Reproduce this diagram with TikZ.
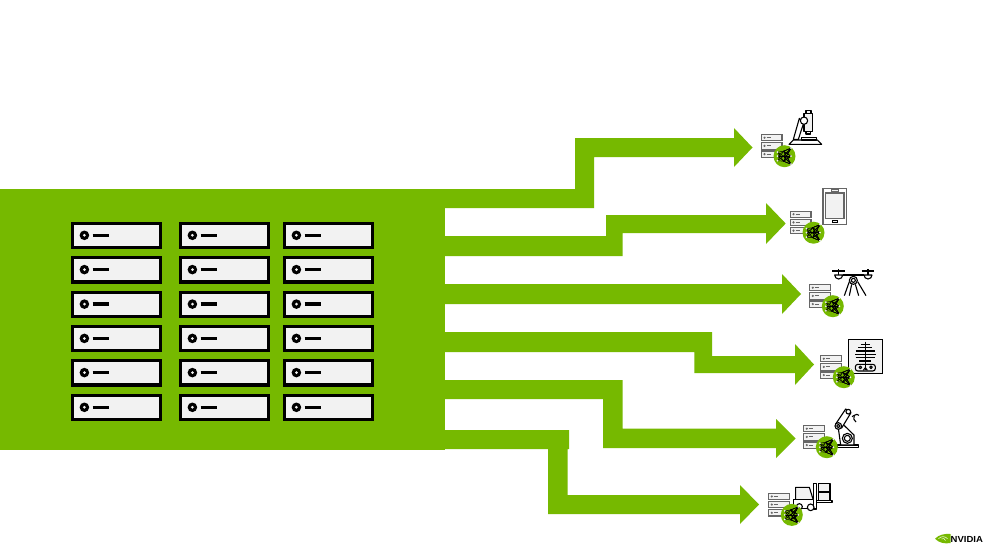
\documentclass[tikz,border=0pt]{standalone}
\usepackage{fontspec}
\newfontfamily\logofont{Liberation Sans}
\definecolor{edgegreen}{HTML}{76B900}
\definecolor{cardc}{HTML}{F2F2F2}
\definecolor{stackc}{HTML}{666666}

\tikzset{
  devline/.style={draw=black,line width=1.1pt,line join=round},
  pics/servercard/.style={code={
    \draw[black,line width=3.2pt,fill=cardc] (1.6,1.6) rectangle (89.4,26);
    \fill[black] (13.7,13.6) circle (4.8);
    \fill[cardc] (13.7,13.6) circle (1.5);
    \draw[black,line width=3.4pt] (22,13.6) -- (38,13.6);
  }},
  pics/edgenode/.style={code={
    % stacked servers
    \foreach \r in {0,1,2} {
      \draw[stackc,line width=1.1pt,fill=cardc] (0.6,{0.6+\r*8.2}) rectangle (21,{6.9+\r*8.2});
      \fill[stackc] (3.5,{3.7+\r*8.2}) circle (1.2);
      \draw[stackc,line width=0.9pt] (5.5,{3.7+\r*8.2}) -- (10,{3.7+\r*8.2});
    }
    % green disc with network
    \fill[edgegreen] (23.5,22.2) circle (11);
    \begin{scope}[shift={(23.5,22.2)}]
      \foreach \ya in {-4,0,4.5} {
        \foreach \yb in {-5,0,5} {
          \draw[black,line width=0.5pt] (-7,\ya) -- (-1,\yb);
          \foreach \yc in {-8,0,8} \draw[black,line width=0.5pt] (-1,\yb) -- (6.5,\yc);
        }
        \fill[cardc] (-7,\ya) circle (1);
      }
      \foreach \yc in {-8,0,8} \fill[cardc] (6.5,\yc) circle (1);
    \end{scope}
  }}
}

\begin{document}
\begin{tikzpicture}[x=1pt,y=-1pt]
  \useasboundingbox (0,0) rectangle (997,560);
  \fill[white] (0,0) rectangle (997,560);

  % ============================================================
  %                       DATA CENTRE BLOCK
  % ============================================================
  \fill[edgegreen] (0,189) rectangle (445,450);
  \foreach \xx in {70.7,178.7,282.7} {
    \foreach \yy in {221.7,256,290.5,324.8,359,393.7} {
      \pic at (\xx,\yy) {servercard};
    }
  }

  % ============================================================
  %                       ARROWS
  % ============================================================
  \fill[edgegreen] (445,189) -- (575,189) -- (575,138) -- (734,138) -- (734,128)
    -- (752.5,147.5) -- (734,167) -- (734,157) -- (594,157) -- (594,208) -- (445,208) -- cycle;
  \fill[edgegreen] (445,236) -- (606,236) -- (606,215) -- (766,215) -- (766,203)
    -- (785.7,223.5) -- (766,244) -- (766,233) -- (622.7,233) -- (622.7,256) -- (445,256) -- cycle;
  \fill[edgegreen] (445,284) -- (782,284) -- (782,274)
    -- (801,294) -- (782,314) -- (782,304) -- (445,304) -- cycle;
  \fill[edgegreen] (445,332) -- (712,332) -- (712,356) -- (795,356) -- (795,344)
    -- (814,364.5) -- (795,385) -- (795,373) -- (694.3,373) -- (694.3,352) -- (445,352) -- cycle;
  \fill[edgegreen] (445,380) -- (622.7,380) -- (622.7,428.7) -- (776,428.7) -- (776,419)
    -- (795.7,438.5) -- (776,458) -- (776,448) -- (603,448) -- (603,399) -- (445,399) -- cycle;
  \fill[edgegreen] (445,430) -- (569,430) -- (569,449) -- (567.7,449) -- (567.7,495) -- (740,495) -- (740,485)
    -- (759,504.5) -- (740,524) -- (740,514) -- (548,514) -- (548,449) -- (445,449) -- cycle;

  % ============================================================
  %                       DEVICES (zoomed coords, 1/3 scale)
  % ============================================================
  % microscope
  \begin{scope}[shift={(740,100)},scale=1/3]
    \draw[devline,fill=white] (147,133) -- (160,120) -- (232,120) -- (245,133) -- cycle;
    \draw[devline,fill=cardc] (185,112) rectangle (230,120);
    \draw[devline,fill=white] (160,118) -- (178,55) -- (190,72) -- (175,118) -- cycle;
    \draw[devline,fill=cardc] (192,40) rectangle (218,95);
    \draw[devline,fill=cardc] (198,32) rectangle (213,40);
    \draw[devline,fill=cardc] (198,95) rectangle (212,102);
    \draw[devline,fill=white] (192,62) circle (11);
  \end{scope}

  % phone
  \begin{scope}[shift={(740,100)},scale=1/3]
    \draw[stackc,line width=1.5pt,fill=white] (249,265) rectangle (320,374);
    \draw[stackc,line width=1.2pt,fill=cardc] (256,279) rectangle (312,356);
    \draw[stackc,line width=1pt,fill=cardc] (274,267) rectangle (294,274);
    \draw[black,line width=0.8pt,fill=cardc] (276,360) rectangle (291,368);
  \end{scope}

  % drone
  \begin{scope}[shift={(790,255)},scale=1/3]
    \foreach \pp in {146,234} {
      \draw[devline] (\pp-19,48) -- (\pp+19,48);
      \draw[devline] (\pp,43) -- (\pp,60);
      \draw[devline] (\pp-12,60) -- (\pp+12,60) arc (0:-180:12 and -12) -- cycle;
    }
    \draw[devline] (158,60) -- (222,60);
    \draw[devline,fill=white] (190,76) circle (12);
    \draw[devline] (190,76) circle (6);
    \draw[devline] (178,80) -- (163,122);
    \draw[devline] (185,88) -- (178,122);
    \draw[devline] (196,88) -- (206,122);
    \draw[devline] (203,80) -- (228,122);
  \end{scope}

  % x-ray
  \begin{scope}[shift={(790,255)},scale=1/3]
    \draw[black,line width=1.2pt,fill=cardc] (175,253) rectangle (278,355);
    \draw[devline] (226,260) -- (226,345);
    \foreach \yy/\ww in {268/14,278/21,288/29,298/31,308/29,318/18} {
      \draw[devline] (226-\ww,\yy) -- (226+\ww,\yy);
    }
    \draw[devline,rounded corners=2.5pt] (196,328) rectangle (256,348);
    \draw[devline] (211,337) circle (4);
    \draw[devline] (243,337) circle (4);
    \draw[devline] (226,338) -- (220,346);
    \draw[devline] (226,338) -- (232,346);
  \end{scope}

  % robot arm
  \begin{scope}[shift={(750,400)},scale=1/3]
    \draw[devline,fill=white] (262,135) rectangle (326,142);
    \draw[devline,fill=white] (272,135) -- (265,85) -- (278,72) -- (312,105) -- (312,135) -- cycle;
    \draw[devline,fill=white] (292,115) circle (15);
    \draw[devline,fill=white] (292,115) circle (9);
    \draw[devline,fill=white] (257,72) -- (287,27) -- (303,38) -- (275,84) -- cycle;
    \draw[devline,fill=white] (265,78) circle (10);
    \draw[devline] (265,78) circle (5);
    \draw[devline,fill=white] (295,35) circle (7);
    \draw[devline] (306,50) -- (313,46) .. controls (318,42) and (323,42) .. (327,46);
    \draw[devline] (313,46) .. controls (309,54) and (311,62) .. (318,66);
  \end{scope}

  % forklift
  \begin{scope}[shift={(750,400)},scale=1/3]
    \draw[devline,fill=cardc] (205,250) rectangle (240,276);
    \draw[devline,fill=cardc] (205,276) rectangle (240,302);
    \draw[devline,fill=white] (200,302) rectangle (246,308);
    \draw[devline,fill=white] (191,250) rectangle (200,327);
    \draw[devline,fill=cardc] (137,300) -- (137,262) -- (178,262) -- (190,300);
    \draw[devline,fill=white] (130,298) rectangle (191,325);
    \draw[devline,fill=white] (148,320) circle (9);
    \draw[devline,fill=white] (182,322) circle (10);
  \end{scope}

  % ============================================================
  %                       EDGE NODES
  % ============================================================
  \pic at (761,134) {edgenode};
  \pic at (790,210.5) {edgenode};
  \pic at (809.3,284) {edgenode};
  \pic at (820.3,355) {edgenode};
  \pic at (803.3,425) {edgenode};
  \pic at (768.3,492.7) {edgenode};

  % ============================================================
  %                       LOGO
  % ============================================================
  \fill[edgegreen] (935,538.7) .. controls (939,534.5) and (945,533.5) .. (950.5,534)
    -- (950.5,543) .. controls (945,544) and (939,543) .. (935,538.7) -- cycle;
  \draw[white,line width=0.5pt] (938.5,538.7) .. controls (941,536) and (945,536) .. (947.5,538.7);
  \draw[white,line width=0.5pt] (941.5,539) .. controls (943,537.8) and (945,538.5) .. (945.5,540.5);
  \node[anchor=west,inner sep=0pt,xscale=1.08,text=black] (logotext) at (950.5,539)
    {\logofont\bfseries\fontsize{8.8pt}{9pt}\selectfont NVIDIA};
\end{tikzpicture}
\end{document}
